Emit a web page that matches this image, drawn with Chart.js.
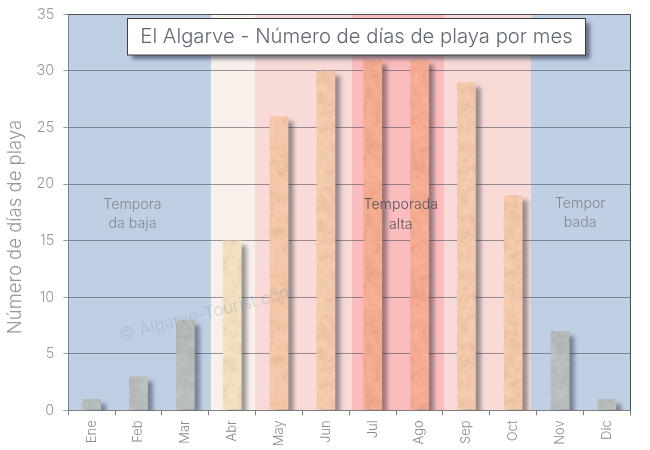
<!DOCTYPE html>
<html><head><meta charset="utf-8">
<style>html,body{margin:0;padding:0;background:#fff}canvas{display:block}</style>
<script src="https://cdn.jsdelivr.net/npm/chart.js@4/dist/chart.umd.min.js"></script>
</head><body><canvas id="c" width="650" height="450"></canvas>
<script>
const months = ["Ene","Feb","Mar","Abr","May","Jun","Jul","Ago","Sep","Oct","Nov","Dic"];
const beachDays = [1,3,8,15,26,30,31,31,29,19,7,1];
const barColors = ["#b7bcba","#b7bcba","#b7bcba","#f2e0bf","#f4c6a6","#f4c9aa","#f5ab8f","#f5ab8f","#f4c9aa","#f4c9aa","#b7bcba","#b7bcba"];
// season bands, in month-index units of the x axis
const zoneEdges = [-0.5,2.55,3.487,5.558,7.523,9.38,11.5];
const zoneColors = ["#bfd0e5","#f8f0ea","#f8dad7","#fabcbd","#f8dad7","#bfd0e5"];
const titleText = "El Algarve - Número de días de playa por mes";
const axisTitle = "Número de días de playa";
const axisTitleCentre = 16.2;
const watermark = "© Algarve-Tourist.com";
const seasonLabels = [
  {lines:["Tempora","da baja"], month:0.87, value:18.2, color:"#85888c"},
  {lines:["Temporada","alta"], month:6.6, value:18.15, color:"#55565a"},
  {lines:["Tempor","bada"], month:10.43, value:18.3, color:"#85888c"}
];
const FONT = "Inter";

function hash(x,y){const v=Math.sin(x*127.1+y*311.7)*43758.5453;return v-Math.floor(v);}
function smooth(x,y,per){
  const xi=Math.floor(x),yi=Math.floor(y),fx=x-xi,fy=y-yi,u=fx*fx*(3-2*fx),v=fy*fy*(3-2*fy);
  const h=(a,b)=>hash((a%per+per)%per,(b%per+per)%per);
  return (h(xi,yi)*(1-u)+h(xi+1,yi)*u)*(1-v)+(h(xi,yi+1)*(1-u)+h(xi+1,yi+1)*u)*v;
}
function texture(hex){
  const s=128,p=document.createElement("canvas");p.width=s;p.height=s;
  const g=p.getContext("2d");g.fillStyle=hex;g.fillRect(0,0,s,s);
  for(let y=0;y<s;y++)for(let x=0;x<s;x++){
    const n=(smooth(x/8,y/8,16)*.4+smooth(x/4,y/4,32)*.3+smooth(x/2,y/2,64)*.3-.5)*2;
    g.fillStyle=n>0?`rgba(255,255,255,${Math.min(n*.18,.1)})`:`rgba(110,85,70,${Math.min(-n*.16,.09)})`;
    g.fillRect(x,y,1,1);
  }
  return document.getElementById("c").getContext("2d").createPattern(p,"repeat");
}

const backdrop={id:"backdrop",beforeDraw(ch){
  const {ctx,chartArea:a,scales:{x}}=ch;
  zoneColors.forEach((col,i)=>{
    const l=Math.round(Math.max(a.left,x.getPixelForValue(zoneEdges[i]))),r=Math.round(Math.min(a.right,x.getPixelForValue(zoneEdges[i+1])));
    ctx.fillStyle=col;ctx.fillRect(l,a.top,r-l,a.bottom-a.top);
  });
}};
const barShadow={id:"barShadow",beforeDatasetDraw(ch){
  const c=ch.ctx;c.save();c.shadowColor="rgba(30,30,45,.44)";c.shadowBlur=4;c.shadowOffsetX=5;c.shadowOffsetY=5;
},afterDatasetDraw(ch){ch.ctx.restore();}};
const overlay={id:"overlay",afterDraw(ch){
  const {ctx,chartArea:a,scales:{x,y}}=ch;
  ctx.save();
  ctx.strokeStyle="#4b4f56";ctx.lineWidth=1;
  ctx.beginPath();ctx.moveTo(a.left,Math.round(a.top)+.5);ctx.lineTo(Math.round(a.right)+.5,Math.round(a.top)+.5);ctx.lineTo(Math.round(a.right)+.5,a.bottom);ctx.stroke();
  // y-axis title, centred lower than the axis midpoint as in the source
  ctx.save();ctx.translate(15.5,y.getPixelForValue(axisTitleCentre));ctx.rotate(-Math.PI/2);
  ctx.font="300 18.5px "+FONT;ctx.fillStyle="#97979b";ctx.textAlign="center";ctx.textBaseline="middle";
  ctx.fillText(axisTitle,0,0);ctx.restore();
  // watermark
  ctx.save();ctx.translate(207,313.5);ctx.rotate(-14.2*Math.PI/180);
  ctx.font="300 17px "+FONT;ctx.fillStyle="rgba(135,148,172,.33)";ctx.textAlign="center";ctx.textBaseline="middle";
  ctx.fillText(watermark,0,0);ctx.restore();
  ctx.font="300 14.2px "+FONT;ctx.textAlign="center";ctx.textBaseline="middle";
  seasonLabels.forEach(s=>{
    ctx.fillStyle=s.color;
    s.lines.forEach((t,i)=>ctx.fillText(t,x.getPixelForValue(s.month),y.getPixelForValue(s.value)+i*19.5));
  });
  // title box
  const bx=127.5,by=18.5,bw=458,bh=36.5;
  ctx.save();ctx.shadowColor="rgba(40,50,70,.6)";ctx.shadowBlur=4;ctx.shadowOffsetX=4;ctx.shadowOffsetY=4;
  ctx.fillStyle="#fff";ctx.fillRect(bx,by,bw,bh);ctx.restore();
  ctx.strokeStyle="#3e3e42";ctx.strokeRect(bx,by,bw,bh);
  ctx.font="300 20.25px "+FONT;ctx.fillStyle="#5f6873";ctx.textBaseline="middle";
  ctx.fillText(titleText,bx+bw/2,by+bh/2+.5);
  ctx.restore();
}};

function start(){
new Chart(document.getElementById("c"),{
  type:"bar",
  data:{labels:months,datasets:[{data:beachDays,backgroundColor:barColors.map(texture),borderWidth:0,barPercentage:.4,categoryPercentage:1}]},
  options:{
    responsive:false,animation:false,devicePixelRatio:1,
    layout:{padding:{left:0,top:14.3,right:19.7,bottom:0}},
    plugins:{legend:{display:false},title:{display:false},tooltip:{enabled:false}},
    scales:{
      x:{offset:true,
        grid:{display:true,drawOnChartArea:false,drawTicks:true,tickLength:5,color:"#7f7f7f",offset:true},
        border:{display:true,color:"#7f7f7f",width:1},
        ticks:{autoSkip:false,minRotation:90,maxRotation:90,padding:5,color:"#8a8a8f",font:{family:FONT,size:13,weight:"300"}},
        afterFit(s){s.height=39.7;s.paddingLeft=0;s.paddingRight=0;}
      },
      y:{min:0,max:35,
        grid:{color:"rgba(70,75,95,.56)",lineWidth:1,tickLength:5,drawTicks:true},
        border:{display:true,color:"#7f7f7f",width:1},
        ticks:{stepSize:5,padding:9,color:"#97979b",font:{family:FONT,size:14.5,weight:"300"}},
        afterFit(s){s.width=68.3;s.paddingTop=0;s.paddingBottom=0;}
      }
    }
  },
  plugins:[backdrop,barShadow,overlay]
});
}
const fonts=["300 16px Inter"];
Promise.all(fonts.map(f=>document.fonts.load(f))).then(start,start);
</script></body></html>
